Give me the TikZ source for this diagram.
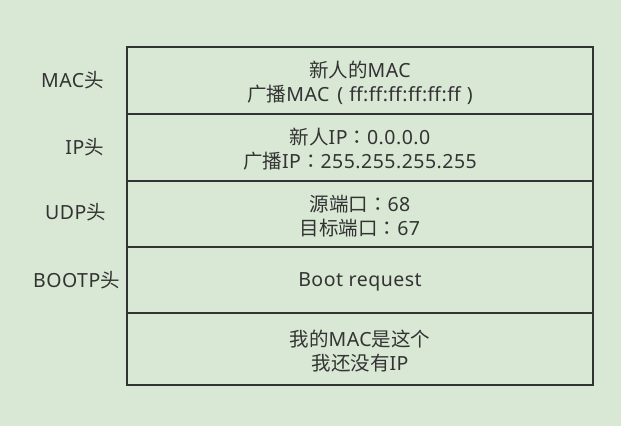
\documentclass[tikz,border=0pt]{standalone}
\usepackage{fontspec}
\setmainfont[LetterSpace=2.5]{Noto Sans}
\newfontfamily\cjk{Noto Sans CJK SC}
\newfontfamily\cjktc{Noto Sans CJK TC}
\newcommand{\fwcolon}{{\cjktc ：}}
\definecolor{bg}{HTML}{D9E7D5}
\definecolor{ink}{HTML}{333333}
\begin{document}
\begin{tikzpicture}[x=1pt,y=-1pt,
  cell/.style={draw=ink,line width=2pt,minimum width=466pt,inner sep=0pt},
  txt/.style={align=center,text=ink,inner sep=0pt,yshift=-2pt,font=\fontsize{19.5}{24}\selectfont},
  lbl/.style={text=ink,inner sep=0pt,font=\fontsize{19.5}{24}\selectfont}]
\fill[bg] (0,0) rectangle (621,426);
\useasboundingbox (0,0) rectangle (621,426);
\node[cell,minimum height=67pt] (mac) at (360,80.5) {};
\node[cell,minimum height=67pt] (ip) at (360,147.5) {};
\node[cell,minimum height=66pt] (udp) at (360,214) {};
\node[cell,minimum height=66pt] (bootp) at (360,280) {};
\node[cell,minimum height=72pt] (data) at (360,349) {};
\node[txt] (mact) at (mac.center) {{\cjk 新人的}MAC\\{\cjk 广播}MAC\hspace{8pt}(\hspace{6pt}ff:ff:ff:ff:ff:ff\hspace{6pt})};
\node[txt] (ipt) at (ip.center) {{\cjk 新人}IP\fwcolon0.0.0.0\\{\cjk 广播}IP\fwcolon255.255.255.255};
\node[txt] (udpt) at (udp.center) {{\cjk 源端口}\fwcolon68\\{\cjk 目标端口}\fwcolon67};
\node[txt] (bootpt) at (bootp.center) {Boot request};
\node[txt] (datat) at (data.center) {{\cjk 我的}MAC{\cjk 是这个}\\{\cjk 我还没有}IP};
\node[lbl,anchor=east] (lmac) at (104,80) {MAC{\cjk 头}};
\node[lbl,anchor=east] (lip) at (104,147) {IP{\cjk 头}};
\node[lbl,anchor=east] (ludp) at (106,212) {UDP{\cjk 头}};
\node[lbl,anchor=east] (lbootp) at (120,280) {BOOTP{\cjk 头}};
\end{tikzpicture}
\end{document}
